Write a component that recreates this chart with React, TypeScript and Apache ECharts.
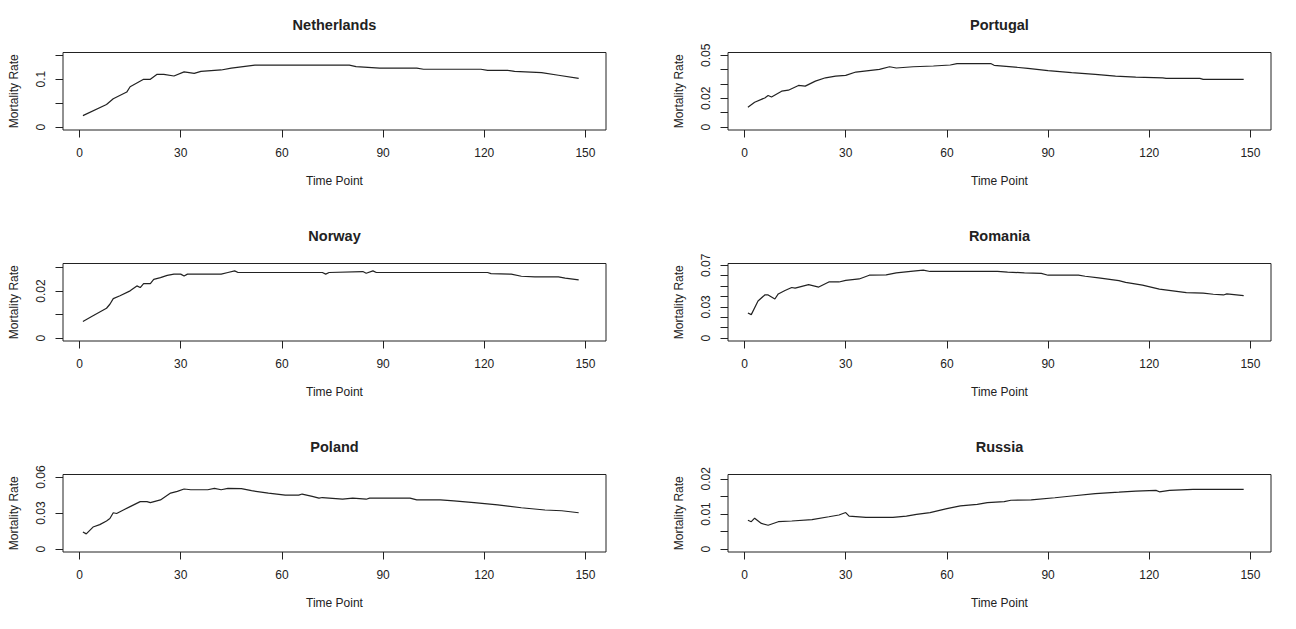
import React, { useEffect, useRef } from "react";
import * as echarts from "echarts";

// ---------- data ----------
const countries = ["Netherlands", "Portugal", "Norway", "Romania", "Poland", "Russia"];

const netherlandsT = [1, 8, 10, 14, 15, 19, 21, 23, 25, 28, 31, 34, 36, 42, 45, 52, 58, 80, 82, 89, 100, 102, 119, 121, 127, 129, 137, 142, 148];
const netherlandsV = [0.024, 0.047, 0.059, 0.073, 0.084, 0.0995, 0.0995, 0.11, 0.11, 0.1065, 0.115, 0.112, 0.116, 0.119, 0.123, 0.129, 0.129, 0.129, 0.126, 0.123, 0.123, 0.1205, 0.1205, 0.118, 0.118, 0.116, 0.1135, 0.108, 0.1016];

const portugalT = [1, 3, 6, 7, 8, 11, 13, 16, 18, 21, 24, 27, 30, 33, 40, 43, 45, 50, 56, 61, 63, 73, 74, 84, 90, 97, 104, 110, 116, 124, 125, 135, 136, 148];
const portugalV = [0.0138, 0.0173, 0.0203, 0.022, 0.021, 0.025, 0.0257, 0.029, 0.0285, 0.032, 0.0343, 0.0355, 0.036, 0.0383, 0.0402, 0.042, 0.0411, 0.042, 0.0425, 0.0432, 0.0442, 0.0442, 0.043, 0.0409, 0.0393, 0.0379, 0.0367, 0.0355, 0.0348, 0.0343, 0.0339, 0.0339, 0.0332, 0.0332];

const norwayT = [1, 4, 8, 9, 10, 12, 15, 17, 18, 19, 21, 22, 24, 26, 28, 30, 31, 32, 42, 44, 46, 47, 72, 73, 74, 84, 85, 87, 88, 121, 122, 128, 131, 135, 142, 144, 148];
const norwayV = [0.0071, 0.0095, 0.0127, 0.0144, 0.0168, 0.018, 0.0201, 0.0222, 0.0215, 0.0232, 0.0232, 0.025, 0.0257, 0.0267, 0.0272, 0.0272, 0.0264, 0.0272, 0.0272, 0.0279, 0.0286, 0.0279, 0.0279, 0.0272, 0.0279, 0.0283, 0.0276, 0.0286, 0.0279, 0.0279, 0.0274, 0.0272, 0.0263, 0.026, 0.026, 0.0255, 0.0248];

const romaniaT = [1, 2, 4, 6, 7, 9, 10, 12, 14, 15, 19, 22, 25, 28, 30, 34, 37, 42, 45, 50, 53, 55, 75, 78, 83, 88, 90, 99, 101, 105, 111, 113, 118, 123, 127, 131, 136, 139, 142, 143, 148];
const romaniaV = [0.0242, 0.0226, 0.0357, 0.0415, 0.0415, 0.0376, 0.0425, 0.0458, 0.0487, 0.0481, 0.0514, 0.0491, 0.054, 0.054, 0.0556, 0.0569, 0.0605, 0.0608, 0.0628, 0.0644, 0.0654, 0.0641, 0.0641, 0.0635, 0.0628, 0.0622, 0.0605, 0.0605, 0.0595, 0.0579, 0.0553, 0.0536, 0.051, 0.0471, 0.0455, 0.0438, 0.0432, 0.0422, 0.0415, 0.0425, 0.0409];

const polandT = [1, 2, 4, 6, 8, 9, 10, 11, 13, 15, 18, 20, 21, 24, 27, 29, 31, 33, 38, 40, 42, 44, 48, 51, 56, 61, 65, 66, 69, 71, 72, 78, 81, 85, 86, 98, 100, 107, 111, 117, 124, 131, 138, 143, 148];
const polandV = [0.0142, 0.0127, 0.0184, 0.0204, 0.0235, 0.0255, 0.0303, 0.0297, 0.0326, 0.0354, 0.0396, 0.0396, 0.0388, 0.041, 0.0467, 0.0481, 0.0501, 0.0495, 0.0495, 0.0507, 0.0495, 0.0507, 0.0504, 0.0487, 0.0467, 0.045, 0.045, 0.0459, 0.0439, 0.0425, 0.043, 0.0416, 0.0425, 0.0416, 0.0425, 0.0425, 0.041, 0.041, 0.0402, 0.0388, 0.0368, 0.0345, 0.0326, 0.032, 0.0303];

const russiaT = [1, 2, 3, 5, 7, 10, 14, 20, 25, 28, 30, 31, 36, 44, 48, 51, 55, 60, 64, 69, 72, 77, 79, 85, 92, 97, 104, 111, 116, 122, 123, 126, 133, 148];
const russiaV = [0.0082, 0.0078, 0.0088, 0.0073, 0.0068, 0.0078, 0.008, 0.0084, 0.0092, 0.0097, 0.0104, 0.0094, 0.009, 0.009, 0.0094, 0.0099, 0.0104, 0.0115, 0.0123, 0.0127, 0.0132, 0.0135, 0.0139, 0.014, 0.0146, 0.0151, 0.0158, 0.0162, 0.0165, 0.0167, 0.0163, 0.0167, 0.017, 0.017];

const seriesT = [netherlandsT, portugalT, norwayT, romaniaT, polandT, russiaT];
const seriesV = [netherlandsV, portugalV, norwayV, romaniaV, polandV, russiaV];

// y-axis upper limits, ticks and shown tick labels per panel
const yUpper = [0.1494, 0.0499, 0.0305, 0.069, 0.0598, 0.0204];
const yTicks = [
  [0, 0.05, 0.1, 0.15],
  [0, 0.01, 0.02, 0.03, 0.04, 0.05],
  [0, 0.01, 0.02, 0.03],
  [0, 0.01, 0.02, 0.03, 0.04, 0.05, 0.06, 0.07],
  [0, 0.03, 0.06],
  [0, 0.005, 0.01, 0.015, 0.02],
];
const yLabels = [
  [0, 0.1],
  [0, 0.02, 0.05],
  [0, 0.02],
  [0, 0.03, 0.07],
  [0, 0.03, 0.06],
  [0, 0.01, 0.02],
];
const xTicks = [0, 30, 60, 90, 120, 150];
const xLimits = [-4.9, 156.1];

// ---------- layout ----------
const COL_LEFT = [63, 728];
const ROW_TOP = [52.5, 263.5, 474.5];
const GRID_W = 543;
const GRID_H = 77.5;
const INK = "#222";
const FONT = "'Liberation Sans', Arial, Helvetica, sans-serif";

export default function App() {
  const ref = useRef<HTMLDivElement | null>(null);

  useEffect(() => {
    if (!ref.current) return;
    const chart = echarts.init(ref.current, undefined, { renderer: "svg" });

    const grids: any[] = [];
    const xAxes: any[] = [];
    const yAxes: any[] = [];
    const series: any[] = [];
    const graphics: any[] = [];

    countries.forEach((name, i) => {
      const r = Math.floor(i / 2);
      const c = i % 2;
      const left = COL_LEFT[c];
      const top = ROW_TOP[r];
      grids.push({
        left,
        top,
        width: GRID_W,
        height: GRID_H,
        show: true,
        borderColor: INK,
        borderWidth: 1,
        backgroundColor: "transparent",
        containLabel: false,
      });
      xAxes.push({
        type: "value",
        gridIndex: i,
        position: "bottom",
        min: xLimits[0],
        max: xLimits[1],
        axisLine: { show: false, onZero: false },
        splitLine: { show: false },
        axisTick: {
          show: true,
          length: 7.5,
          inside: false,
          customValues: xTicks,
          lineStyle: { color: INK, width: 1 },
        },
        axisLabel: {
          show: true,
          customValues: xTicks,
          margin: 17,
          fontSize: 12,
          fontFamily: FONT,
          color: INK,
          formatter: (v: number) => String(v),
        },
        name: "Time Point",
        nameLocation: "middle",
        nameGap: 45,
        nameTextStyle: { fontSize: 12, fontFamily: FONT, color: INK },
      });
      const U = yUpper[i];
      yAxes.push({
        type: "value",
        gridIndex: i,
        position: "left",
        min: -0.04 * U,
        max: 1.04 * U,
        axisLine: { show: false, onZero: false },
        splitLine: { show: false },
        axisTick: {
          show: true,
          length: 7.5,
          inside: false,
          customValues: yTicks[i],
          lineStyle: { color: INK, width: 1 },
        },
        axisLabel: {
          show: true,
          customValues: yLabels[i],
          rotate: 90,
          margin: 16,
          fontSize: 12,
          fontFamily: FONT,
          color: INK,
          formatter: (v: number) => String(v),
        },
        name: "Mortality Rate",
        nameLocation: "middle",
        nameGap: 43,
        nameTextStyle: { fontSize: 12, fontFamily: FONT, color: INK },
      });
      series.push({
        type: "line",
        name,
        xAxisIndex: i,
        yAxisIndex: i,
        data: seriesT[i].map((t, k) => [t, seriesV[i][k]]),
        showSymbol: false,
        symbol: "none",
        silent: true,
        lineStyle: { color: INK, width: 1.2 },
      });
      graphics.push({
        type: "text",
        x: left + GRID_W / 2,
        y: top - 27.5,
        style: {
          text: name,
          textAlign: "center",
          textVerticalAlign: "middle",
          font: `bold 14.5px ${FONT}`,
          fill: INK,
        },
      });
    });

    chart.setOption({
      animation: false,
      backgroundColor: "#ffffff",
      grid: grids,
      xAxis: xAxes,
      yAxis: yAxes,
      series,
      graphic: graphics,
    });

    return () => chart.dispose();
  }, []);

  return (
    <div
      ref={ref}
      style={{ position: "fixed", left: 0, top: 0, width: 1296, height: 629 }}
    />
  );
}
